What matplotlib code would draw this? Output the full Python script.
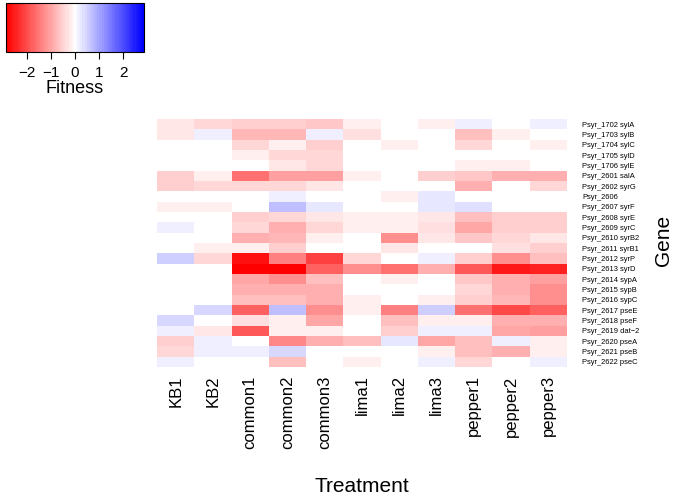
import numpy as np
import matplotlib
matplotlib.use('Agg')
import matplotlib.pyplot as plt
from matplotlib.colors import LinearSegmentedColormap, Normalize
from matplotlib.colorbar import ColorbarBase

plt.rcParams['font.family'] = ['Liberation Sans', 'DejaVu Sans']

# Treatments (columns) and genes (rows, top to bottom)
treatments = ['KB1', 'KB2', 'common1', 'common2', 'common3',
              'lima1', 'lima2', 'lima3', 'pepper1', 'pepper2', 'pepper3']
genes = ['Psyr_1702 sylA', 'Psyr_1703 sylB', 'Psyr_1704 sylC', 'Psyr_1705 sylD',
         'Psyr_1706 sylE', 'Psyr_2601 salA', 'Psyr_2602 syrG', 'Psyr_2606',
         'Psyr_2607 syrF', 'Psyr_2608 syrE', 'Psyr_2609 syrC', 'Psyr_2610 syrB2',
         'Psyr_2611 syrB1', 'Psyr_2612 syrP', 'Psyr_2613 syrD', 'Psyr_2614 sypA',
         'Psyr_2615 sypB', 'Psyr_2616 sypC', 'Psyr_2617 pseE', 'Psyr_2618 pseF',
         'Psyr_2619 dat\u22122', 'Psyr_2620 pseA', 'Psyr_2621 pseB', 'Psyr_2622 pseC']

# fitness values, one row per gene
fitness = np.array([
    [-0.25, -0.45, -0.5, -0.5, -0.65, -0.2, 0, -0.2, 0.2, 0, 0.2],
    [-0.25, 0.2, -0.8, -0.8, 0.2, -0.35, 0, 0, -0.75, -0.2, 0],
    [0, 0, -0.45, -0.2, -0.55, 0, -0.2, 0, -0.4, 0, -0.2],
    [0, 0, -0.2, -0.4, -0.45, 0, 0, 0, 0, 0, 0],
    [0, 0, 0, -0.25, -0.45, 0, 0, 0, -0.2, -0.2, 0],
    [-0.55, -0.2, -1.55, -1.1, -1.05, -0.22, 0, -0.5, -0.6, -0.85, -0.85],
    [-0.55, -0.4, -0.4, -0.4, -0.25, 0, 0, 0, -0.85, 0, -0.4],
    [0, 0, 0, 0.2, 0, 0, -0.22, 0.25, 0, 0, 0],
    [-0.2, -0.2, 0, 0.7, 0.3, 0, 0, 0.25, 0.35, 0, 0],
    [0, 0, -0.55, -0.4, -0.25, -0.2, -0.2, -0.25, -0.7, -0.5, -0.5],
    [0.2, 0, -0.4, -0.9, -0.45, -0.2, -0.15, -0.35, -0.95, -0.5, -0.5],
    [0, 0, -0.9, -0.8, -0.2, 0, -1.2, -0.3, -0.6, -0.45, -0.25],
    [0, -0.15, -0.15, -0.5, 0, 0, -0.25, 0, 0, -0.35, -0.5],
    [0.55, -0.4, -2.65, -1.4, -2.1, -0.45, 0, 0.2, -0.5, -1.2, -0.7],
    [0, 0, -2.9, -2.9, -1.8, -1.2, -1.6, -0.85, -1.9, -2.6, -2.5],
    [0, 0, -1.0, -1.2, -0.7, 0, -0.2, 0, -0.6, -0.85, -1.05],
    [0, 0, -0.9, -0.9, -0.85, 0, 0, 0, -0.45, -0.85, -1.2],
    [0, 0, -0.7, -0.7, -0.85, -0.2, 0, -0.15, -0.55, -0.8, -1.2],
    [0, 0.4, -1.75, 0.7, -1.2, -0.2, -1.4, 0.5, -1.55, -2.0, -1.75],
    [0.4, 0, -0.35, -0.15, -0.95, 0, -0.75, -0.15, -0.15, -0.85, -0.85],
    [0.2, -0.25, -1.85, -0.15, -0.15, 0, -0.5, 0.15, 0.15, -0.95, -1.05],
    [-0.5, 0.2, 0, -1.3, -0.85, -0.75, 0.3, -0.95, -0.75, 0.2, -0.15],
    [-0.4, 0.15, 0.15, 0.4, 0, 0, 0, -0.2, -0.75, -0.9, -0.15],
    [0.15, 0, 0, -0.7, 0, -0.2, 0, 0.15, -0.4, 0, 0.2],
])

lim = 2.875
# odd N so that 0 lands exactly on white
cmap = LinearSegmentedColormap.from_list('rwb', ['#FF0000', '#FFFFFF', '#0000FF'], N=65)
norm = Normalize(vmin=-lim, vmax=lim)

fig = plt.figure(figsize=(6.8, 4.96), dpi=100, facecolor='white')

# main heatmap
ax = fig.add_axes([157 / 680, 1 - 367 / 496, 410 / 680, 248 / 496])
ax.pcolormesh(fitness, cmap=cmap, norm=norm)
ax.set_xlim(0, len(treatments))
ax.set_ylim(len(genes), 0)
for s in ax.spines.values():
    s.set_visible(False)
ax.set_xticks(np.arange(len(treatments)) + 0.5)
ax.set_xticklabels(treatments, rotation=90, fontsize=12)
ax.tick_params(axis='x', length=0, pad=6)
ax.yaxis.tick_right()
ax.set_yticks(np.arange(len(genes)) + 0.5)
ax.set_yticklabels(genes, fontsize=5.4)
ax.tick_params(axis='y', length=0, pad=11)

fig.text(362 / 680, 1 - 487 / 496, 'Treatment', fontsize=15, ha='center', va='center')
fig.text(664 / 680, 1 - 240 / 496, 'Gene', fontsize=15, ha='center', va='center', rotation=90)

# colour key
cax = fig.add_axes([6 / 680, 1 - 52 / 496, 138 / 680, 49 / 496])
cb = ColorbarBase(cax, cmap=cmap, norm=norm, orientation='horizontal')
cb.set_ticks([-2, -1, 0, 1, 2])
cb.set_ticklabels(['\u22122', '\u22121', '0', '1', '2'])
cb.outline.set_linewidth(0.8)
cax.tick_params(axis='x', length=5, width=0.8, labelsize=11, pad=5)
cb.set_label('Fitness', fontsize=13, labelpad=0)

plt.savefig('out.png', dpi=100, facecolor='white')
